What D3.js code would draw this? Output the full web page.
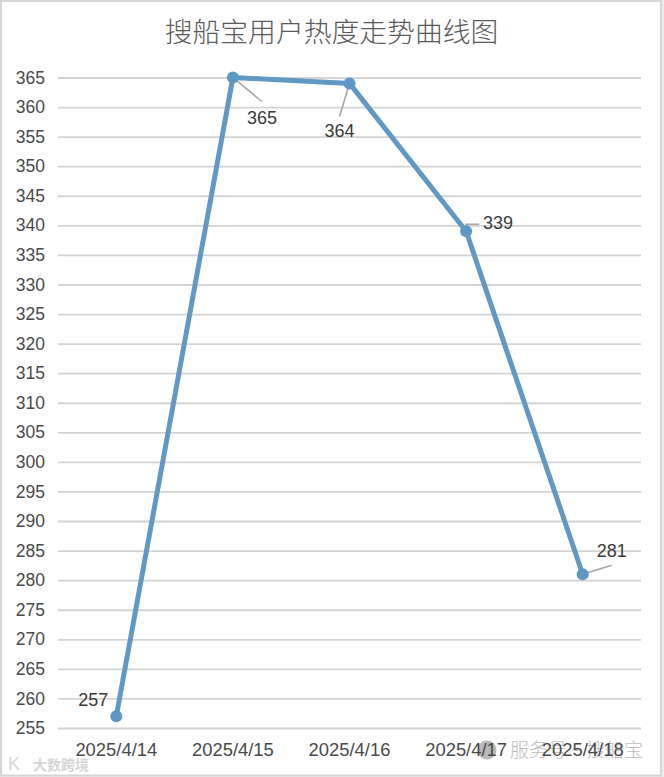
<!DOCTYPE html>
<html><head><meta charset="utf-8">
<script src="https://cdn.jsdelivr.net/npm/d3@7"></script>
<style>html,body{margin:0;padding:0;background:#fff}svg{display:block}</style></head>
<body><svg id="c" width="664" height="777"></svg>
<script>
const titleText = "搜船宝用户热度走势曲线图";
const categories = ["2025/4/14","2025/4/15","2025/4/16","2025/4/17","2025/4/18"];
const values = [257,365,364,339,281];
const yTicks = d3.range(255,366,5);
const labelOffsets = [[-23,-16],[29,41],[-10,48],[32,-8],[29,-23]];
const leaderPaths = [null,[[29,24]],[[-10,33]],[[0,-7],[13,-7]],[[29,-9]]];

const svg = d3.select("#c");
const font = "'Liberation Sans',Arial,sans-serif";
const x = d3.scaleBand().domain(categories).range([58,641]);
const y = d3.scaleLinear().domain([255,365]).range([728,77.5]);
const px = d => x(d)+x.bandwidth()/2;

svg.append("rect").attr("width",664).attr("height",777).attr("fill","#ececec");
svg.append("rect").attr("x",1).attr("y",1).attr("width",660).attr("height",774.5)
  .attr("fill","#fff").attr("stroke","#d6d6d6").attr("stroke-width",2);

svg.append("text").attr("x",331.5).attr("y",42).attr("text-anchor","middle")
  .attr("font-family","'Noto Sans CJK SC'").attr("font-weight",300).attr("font-size",27.8)
  .attr("fill","#5a5a5a").text(titleText);

const gy = svg.append("g").attr("transform","translate(58,0)")
  .call(d3.axisLeft(y).tickValues(yTicks).tickSize(-583).tickPadding(13));
gy.select(".domain").remove();
gy.selectAll("line").attr("stroke","#d4d4d4").attr("stroke-width",1.8);
gy.selectAll("text").attr("font-family",font).attr("font-size",17.5).attr("fill","#4a4a4a");

// watermarks (under the axis labels, as in the reference)
svg.append("text").attr("x",33).attr("y",770).attr("font-family","'Noto Sans CJK SC'")
  .attr("font-size",14).attr("font-weight",700).attr("fill","#d6d6d6").text("大数跨境");
svg.append("text").attr("x",8).attr("y",770).attr("font-family",font)
  .attr("font-size",18).attr("fill","#d6d6d6").text("K");
svg.append("text").attr("x",510).attr("y",757).attr("font-family","'Noto Sans CJK SC'")
  .attr("font-size",19).attr("font-weight",300).attr("fill","#bcbcbc").text("服务号·搜船宝");
svg.append("circle").attr("cx",487).attr("cy",750).attr("r",9.5).attr("fill","#a8a8a8").attr("opacity",.8);

const gx = svg.append("g").attr("transform","translate(0,728)")
  .call(d3.axisBottom(x).tickSize(0).tickPadding(14.5));
gx.select(".domain").remove();
gx.selectAll("text").attr("font-family",font).attr("font-size",18.4).attr("fill","#4a4a4a");

// leaders
const leader = d3.line();
svg.append("g").selectAll("path")
  .data(categories.map((c,i)=>({c,v:values[i],p:leaderPaths[i]})).filter(d=>d.p))
  .join("path")
  .attr("d",d=>leader([[px(d.c),y(d.v)]].concat(d.p.map(q=>[px(d.c)+q[0],y(d.v)+q[1]]))))
  .attr("fill","none").attr("stroke","#a6a6a6").attr("stroke-width",1.6);

const line = d3.line().x((d,i)=>px(categories[i])).y(d=>y(d));
svg.append("path").attr("d",line(values)).attr("fill","none")
  .attr("stroke","#6299c4").attr("stroke-width",5).attr("stroke-linejoin","round");
svg.append("g").selectAll("circle").data(values).join("circle")
  .attr("cx",(d,i)=>px(categories[i])).attr("cy",d=>y(d)).attr("r",6).attr("fill","#5f97c6");

svg.append("g").selectAll("text").data(values).join("text")
  .attr("x",(d,i)=>px(categories[i])+labelOffsets[i][0])
  .attr("y",(d,i)=>y(d)+labelOffsets[i][1]+5.5)
  .attr("text-anchor","middle").attr("font-family",font).attr("font-size",18)
  .attr("fill","#3a3a3a").text(d=>d);
</script></body></html>
